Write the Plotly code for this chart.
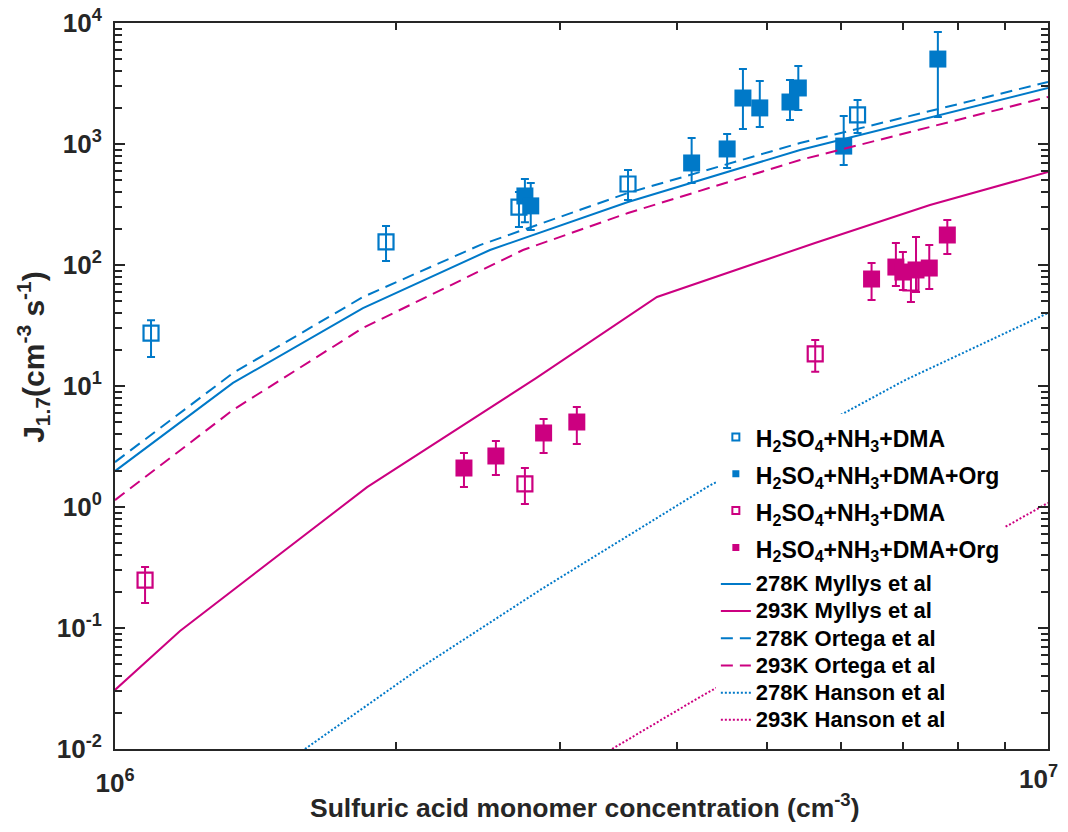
import plotly.graph_objects as go
import numpy as np

# ---------------- data ----------------
# 278 K, H2SO4+NH3+DMA (open blue)
b_open_x = [1.093e6, 1.952e6, 2.71e6, 3.547e6, 6.25e6]
b_open_y = [27.4, 155, 301, 467, 1738]
b_open_hi = [35, 210, 401, 610, 2312]
b_open_lo = [17.4, 108, 206, 345, 1233]

# 278 K, H2SO4+NH3+DMA+Org (filled blue)
b_org_x = [2.75e6, 2.79e6, 4.15e6, 4.53e6, 4.71e6, 4.91e6, 5.29e6, 5.40e6, 6.04e6, 7.62e6]
b_org_y = [372, 308, 697, 910, 2399, 1987, 2223, 2904, 961, 5036]
b_org_hi = [514, 476, 1122, 1210, 4170, 3320, 3382, 4418, 1702, 8440]
b_org_lo = [226, 195, 476, 634, 1330, 1380, 1578, 1910, 670, 1671]

# 293 K, H2SO4+NH3+DMA (open magenta)
m_open_x = [1.077e6, 2.75e6, 5.63e6, 7.13e6]
m_open_y = [0.249, 1.55, 18.4, 71.0]
m_open_hi = [0.319, 2.10, 24.0, 94.4]
m_open_lo = [0.161, 1.06, 13.1, 49.4]

# 293 K, H2SO4+NH3+DMA+Org (filled magenta)
m_org_x = [2.366e6, 2.56e6, 2.88e6, 3.126e6, 6.47e6, 6.87e6, 6.99e6, 7.22e6, 7.46e6, 7.80e6]
m_org_y = [2.10, 2.64, 4.09, 5.04, 76.6, 96.2, 87.5, 91.0, 94.4, 177]
m_org_hi = [2.79, 3.51, 5.33, 6.70, 104, 152, 128, 170, 146, 236]
m_org_lo = [1.46, 1.84, 2.79, 3.32, 51.4, 67.0, 62.1, 59.9, 63.4, 123]

# model curves
myl278_x = [1.0e6, 1.338e6, 1.844e6, 2.523e6, 3.547e6, 5.423e6, 1.0e7]
myl278_y = [1.98, 10.6, 44.1, 133, 332, 892, 2904]
myl293_x = [1.0e6, 1.174e6, 1.863e6, 2.827e6, 3.810e6, 5.627e6, 7.473e6, 1.0e7]
myl293_y = [0.0308, 0.0944, 1.46, 11.6, 54.4, 152, 313, 587]
ort278_x = [1.0e6, 1.338e6, 1.844e6, 2.461e6, 3.547e6, 5.423e6, 1.0e7]
ort278_y = [2.35, 12.8, 54.4, 146, 394, 1019, 3255]
ort293_x = [1.0e6, 1.338e6, 1.844e6, 2.737e6, 3.547e6, 5.423e6, 1.0e7]
ort293_y = [1.14, 6.34, 30.2, 133, 269, 738, 2446]
han278_x = [1.598e6, 2.123e6, 2.855e6, 4.31e6, 7.03e6, 1.0e7]
han278_y = [0.01, 0.0467, 0.206, 1.46, 11.2, 40.1]
han293_x = [3.41e6, 4.236e6, 9.036e6, 1.0e7]
han293_y = [0.01, 0.0269, 0.697, 1.08]

y_major = [1e-2, 1e-1, 1e0, 1e1, 1e2, 1e3, 1e4]
y_major_text = ["10<sup>-2</sup>", "10<sup>-1</sup>", "10<sup>0</sup>", "10<sup>1</sup>",
                "10<sup>2</sup>", "10<sup>3</sup>", "10<sup>4</sup>"]
x_major = [1e6, 1e7]
x_major_text = ["10<sup>6</sup>", "10<sup>7</sup>"]

BLUE = "#0079C8"
MAG = "#CC0080"
AX = "#262626"
FONT = "Liberation Sans, Arial, Helvetica, sans-serif"

def errs(y, hi, lo):
    y = np.array(y, float)
    return dict(type="data", symmetric=False, array=list(np.array(hi) - y),
                arrayminus=list(y - np.array(lo)), thickness=2, width=4)

fig = go.Figure()

def add_pts(x, y, hi, lo, color, filled):
    e = errs(y, hi, lo)
    e["color"] = color
    fig.add_trace(go.Scatter(
        x=x, y=y, mode="markers", showlegend=False, error_y=e,
        marker=dict(symbol="square" if filled else "square-open", size=17 if filled else 15,
                    color=color, line=dict(color=color, width=0 if filled else 2.2))))

add_pts(b_open_x, b_open_y, b_open_hi, b_open_lo, BLUE, False)
add_pts(m_open_x, m_open_y, m_open_hi, m_open_lo, MAG, False)
add_pts(b_org_x, b_org_y, b_org_hi, b_org_lo, BLUE, True)
add_pts(m_org_x, m_org_y, m_org_hi, m_org_lo, MAG, True)

chem_span = '<span style="font-size:23px">%s</span>'
line_span = '<span style="font-size:22px">%s</span>'
chem = "H<sub>2</sub>SO<sub>4</sub>+NH<sub>3</sub>+DMA"
# legend-only markers (first legend block)
for name, color, filled in [(chem, BLUE, False), (chem + "+Org", BLUE, True),
                            (chem, MAG, False), (chem + "+Org", MAG, True)]:
    fig.add_trace(go.Scatter(
        x=[None], y=[None], mode="markers", name=chem_span % name, legend="legend",
        marker=dict(symbol="square" if filled else "square-open", size=7,
                    color=color, line=dict(color=color, width=0 if filled else 2))))

for name, x, y, color, dash in [
        ("278K Myllys et al", myl278_x, myl278_y, BLUE, "solid"),
        ("293K Myllys et al", myl293_x, myl293_y, MAG, "solid"),
        ("278K Ortega et al", ort278_x, ort278_y, BLUE, "12px,7px"),
        ("293K Ortega et al", ort293_x, ort293_y, MAG, "12px,7px"),
        ("278K Hanson et al", han278_x, han278_y, BLUE, "2px,2px"),
        ("293K Hanson et al", han293_x, han293_y, MAG, "2px,2px")]:
    fig.add_trace(go.Scatter(x=x, y=y, mode="lines", name=line_span % name, legend="legend2",
                             line=dict(color=color, width=2, dash=dash)))

def minor_vals(lo_exp, hi_exp):
    return [m * 10.0 ** e for e in range(lo_exp, hi_exp) for m in range(2, 10)]

tick_font = dict(family=FONT, size=26, color=AX, weight="bold")

# page has an 8px body margin: figure 1052x816, plot area at page x 115..1048, y 23..749
fig.update_layout(
    width=1052, height=816,
    margin=dict(l=107, r=12, t=15, b=75, autoexpand=False),
    paper_bgcolor="white", plot_bgcolor="white",
    font=dict(family=FONT, size=20, color=AX, weight="bold"),
    showlegend=True,
    legend=dict(x=0.644, y=0.462, xanchor="left", yanchor="top",
                bgcolor="white", borderwidth=0, tracegroupgap=0,
                font=dict(family=FONT, size=26, color="black", weight="bold")),
    legend2=dict(x=0.644, y=0.253, xanchor="left", yanchor="top",
                 bgcolor="white", borderwidth=0, tracegroupgap=0,
                 font=dict(family=FONT, size=18.6, color="black", weight="bold")),
    xaxis=dict(type="log", range=[6, 7], showgrid=False, zeroline=False, automargin=False,
               showline=True, linewidth=2, linecolor=AX, mirror="allticks",
               ticks="inside", ticklen=10, tickwidth=2, tickcolor=AX,
               tickmode="array", tickvals=x_major, ticktext=[x_major_text[0], ""],
               ticklabelstandoff=10, ticklabeloverflow="allow",
               tickfont=tick_font,
               minor=dict(tickmode="array", tickvals=minor_vals(6, 7), ticks="inside",
                          ticklen=7, tickwidth=2, tickcolor=AX, showgrid=False)),
    yaxis=dict(type="log", range=[-2, 4], showgrid=False, zeroline=False, automargin=False,
               showline=True, linewidth=2, linecolor=AX, mirror="allticks",
               ticks="inside", ticklen=10, tickwidth=2, tickcolor=AX,
               tickmode="array", tickvals=y_major, ticktext=y_major_text,
               ticklabelstandoff=6, ticklabeloverflow="allow",
               tickfont=tick_font,
               minor=dict(tickmode="array", tickvals=minor_vals(-2, 4), ticks="inside",
                          ticklen=7, tickwidth=2, tickcolor=AX, showgrid=False)),
    annotations=[
        # last x tick label, kept inside the page edge
        dict(text=x_major_text[1], xref="paper", yref="paper", x=1.0, y=0,
             xanchor="right", yanchor="top", xshift=12, yshift=-10, showarrow=False,
             font=tick_font),
        dict(text="J<sub>1.7</sub>(cm<sup>-3</sup> s<sup>-1</sup>)",
             xref="paper", yref="paper", x=-0.088, y=0.54,
             xanchor="center", yanchor="middle", textangle=-90, showarrow=False,
             font=dict(family=FONT, size=30, color=AX, weight="bold")),
        dict(text="Sulfuric acid monomer concentration (cm<sup>-3</sup>)",
             xref="paper", yref="paper", x=0.504, y=-0.078,
             xanchor="center", yanchor="middle", showarrow=False,
             font=dict(family=FONT, size=26.5, color=AX, weight="bold")),
    ],
)

fig.write_html("out.html")
